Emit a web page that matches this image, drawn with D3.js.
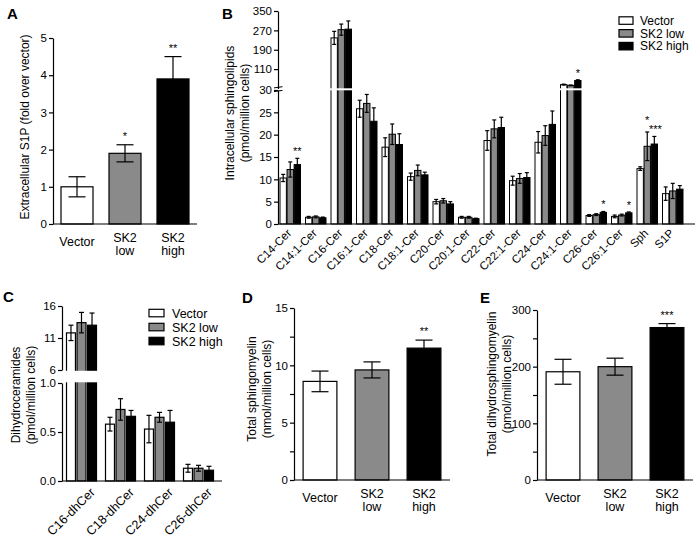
<!DOCTYPE html>
<html><head><meta charset="utf-8">
<script src="https://cdn.jsdelivr.net/npm/d3@7"></script>
<style>
body{margin:0;background:#fff;}
svg text{font-family:"Liberation Sans",Arial,sans-serif;fill:#000;}
</style></head><body>
<svg id="c" width="700" height="541"></svg>
<script>
// ---------- data ----------
const groups = ["Vector","SK2 low","SK2 high"];
const fills = ["#ffffff","#8a8a8a","#000000"];

// Panel A
const aValues = [1.0, 1.9, 3.9];
const aErrors = [0.27, 0.23, 0.6];
const aStars = ["", "*", "**"];
const aTicks = [0,1,2,3,4,5];

// Panel B
const bCategories = ["C14-Cer","C14:1-Cer","C16-Cer","C16:1-Cer","C18-Cer","C18:1-Cer","C20-Cer","C20:1-Cer","C22-Cer","C22:1-Cer","C24-Cer","C24:1-Cer","C26-Cer","C26:1-Cer","Sph","S1P"];
const bVector = [10.3, 1.5, 239, 25.8, 17.2, 10.6, 5.0, 1.5, 18.7, 9.7, 18.3, 46, 1.9, 1.7, 12.4, 6.8];
const bLow    = [12.2, 1.6, 273, 27.0, 20.1, 12.0, 5.2, 1.5, 21.3, 10.2, 19.8, 43, 2.1, 2.0, 17.4, 7.4];
const bHigh   = [13.3, 1.4, 275, 23.0, 17.8, 11.0, 4.5, 1.2, 21.6, 10.4, 22.3, 63, 2.6, 2.5, 17.9, 7.8];
const bVectorErr = [0.8, 0.2, 27, 1.9, 2.1, 0.8, 0.5, 0.2, 2.2, 1.0, 2.4, 2, 0.2, 0.3, 0.4, 1.5];
const bLowErr    = [1.7, 0.2, 23, 2.0, 2.3, 1.2, 0.5, 0.2, 2.0, 1.1, 2.2, 1.5, 0.2, 0.2, 3.2, 1.7];
const bHighErr   = [1.4, 0.15, 34, 3.0, 2.4, 0.6, 0.5, 0.1, 2.3, 1.1, 3.0, 3, 0.2, 0.2, 1.7, 0.8];
const bStars = [["C14-Cer",2,"**"],["C24:1-Cer",2,"*"],["C26-Cer",2,"*"],["C26:1-Cer",2,"*"],["Sph",1,"*"],["Sph",2,"***"]];
const bLowTicks = [0,5,10,15,20,25,30];
const bHighTicks = [110,190,270,350];
const bBreak = 30;

// Panel C
const cCategories = ["C16-dhCer","C18-dhCer","C24-dhCer","C26-dhCer"];
const cVector = [11.8, 0.58, 0.53, 0.13];
const cLow    = [13.4, 0.73, 0.65, 0.13];
const cHigh   = [13.0, 0.66, 0.60, 0.11];
const cVectorErr = [1.2, 0.07, 0.14, 0.04];
const cLowErr    = [1.6, 0.11, 0.05, 0.03];
const cHighErr   = [1.9, 0.06, 0.12, 0.04];
const cLowTicks = [0, 0.5, 1.0];
const cHighTicks = [6, 11, 16];

// Panel D
const dValues = [8.6, 9.6, 11.5];
const dErrors = [0.9, 0.7, 0.7];
const dStars = ["", "", "**"];
const dTicks = [0, 2.5, 5, 7.5, 10, 12.5, 15];

// Panel E
const eValues = [191, 200, 269];
const eErrors = [22, 15, 7];
const eStars = ["", "", "***"];
const eTicks = [0, 50, 100, 150, 200, 250, 300];

// ---------- drawing ----------
const svg = d3.select("#c");
svg.append("rect").attr("width",700).attr("height",541).attr("fill","#fff");
const FONT = "'Liberation Sans', Arial, sans-serif";
const SW = 1.2;

function panelLabel(t,x,y){
  svg.append("text").attr("x",x).attr("y",y).attr("font-size",15).attr("font-weight","bold").text(t);
}
function yTitle(lines, x, y){
  const t = svg.append("text").attr("transform",`translate(${x},${y}) rotate(-90)`)
    .attr("text-anchor","middle").attr("font-size",12);
  lines.forEach((l,i)=> t.append("tspan").attr("x",0).attr("dy", i===0?0:15).text(l));
}
function styleAxis(g){
  g.selectAll("path,line").attr("stroke","#000").attr("stroke-width",SW);
  g.selectAll("text").attr("font-size",11.5).attr("font-family",FONT).attr("fill","#000");
}
function errBar(g, cx, y1, y2, capW){
  g.append("line").attr("x1",cx).attr("x2",cx).attr("y1",y1).attr("y2",y2).attr("stroke","#000").attr("stroke-width",SW);
  [y1,y2].forEach(y=> g.append("line").attr("x1",cx-capW/2).attr("x2",cx+capW/2).attr("y1",y).attr("y2",y).attr("stroke","#000").attr("stroke-width",SW));
}
function xLine(x1,x2,y){
  svg.append("line").attr("x1",x1).attr("x2",x2).attr("y1",y).attr("y2",y).attr("stroke","#000").attr("stroke-width",SW);
}
function groupLabels(x, y, cx){
  groups.forEach((gname,i)=>{
    const parts = gname.split(" ");
    const t = svg.append("text").attr("text-anchor","middle").attr("font-size",12.5);
    if(parts.length===1){
      t.attr("x",cx(gname)).attr("y",y+22).text(gname);
    } else {
      t.append("tspan").attr("x",cx(gname)).attr("y",y+18).text(parts[0]);
      t.append("tspan").attr("x",cx(gname)).attr("y",y+31).text(parts[1]);
    }
  });
}

// simple 3-bar panel
function simplePanel(opts){
  const x = d3.scaleBand(groups,[opts.x0,opts.x1]).paddingInner(opts.pad).paddingOuter(opts.pad/2);
  const y = d3.scaleLinear(opts.domain,[opts.yb,opts.yt]);
  const g = svg.append("g");
  opts.values.forEach((v,i)=>{
    const gn = groups[i];
    g.append("rect").attr("x",x(gn)).attr("width",x.bandwidth()).attr("y",y(v)).attr("height",y(0)-y(v))
      .attr("fill",fills[i]).attr("stroke","#000").attr("stroke-width",SW);
    const cx = x(gn)+x.bandwidth()/2;
    errBar(g, cx, y(v-opts.errors[i]), y(v+opts.errors[i]), opts.capW);
    if(opts.stars[i]) g.append("text").attr("x",cx).attr("y",y(v+opts.errors[i])-5)
      .attr("text-anchor","middle").attr("font-size",11).text(opts.stars[i]);
  });
  const ax = svg.append("g").attr("transform",`translate(${opts.x0},0)`)
    .call(d3.axisLeft(y).tickValues(opts.ticks).tickSize(4).tickSizeOuter(0).tickPadding(2)
      .tickFormat(opts.fmt || (d=>d)));
  styleAxis(ax);
  xLine(opts.x0, opts.x1, opts.yb);
  groupLabels(x, opts.yb, gn => x(gn)+x.bandwidth()/2);
}

// Panel A
panelLabel("A",7,19);
simplePanel({x0:53,x1:197,yb:224,yt:38,domain:[0,5],values:aValues,errors:aErrors,stars:aStars,ticks:aTicks,pad:1/3,capW:17});
yTitle(["Extracellular S1P (fold over vector)"], 29, 127);

// Panel D
panelLabel("D",242,303);
simplePanel({x0:294,x1:450,yb:480,yt:308,domain:[0,15],values:dValues,errors:dErrors,stars:dStars,ticks:dTicks,pad:0.35,capW:17,
  fmt:d=> d%5===0? d : ""});
yTitle(["Total sphingomyelin","(nmol/million cells)"], 256, 389);

// Panel E
panelLabel("E",480,303);
simplePanel({x0:537,x1:693,yb:480,yt:310,domain:[0,300],values:eValues,errors:eErrors,stars:eStars,ticks:eTicks,pad:0.35,capW:17,
  fmt:d=> d%100===0? d : ""});
yTitle(["Total dihydrosphingomyelin","(pmol/million cells)"], 496, 384);

// ---------- Panel B (broken axis) ----------
panelLabel("B",222,19);
{
  const x0 = d3.scaleBand(bCategories,[277.5,685.5]);
  const x1 = d3.scaleBand(groups,[-10.25,10.25]).paddingInner(0.1);
  const yLow = d3.scaleLinear([0,bBreak],[224,90]);
  const yHigh = d3.scaleLinear([bBreak,350],[88.5,11]);
  const yB = v => v<=bBreak ? yLow(v) : yHigh(v);
  const series = [bVector,bLow,bHigh];
  const errs = [bVectorErr,bLowErr,bHighErr];
  const g = svg.append("g");
  bCategories.forEach((cat,ci)=>{
    const c = x0(cat)+x0.bandwidth()/2;
    let broken = false;
    series.forEach((s,si)=>{
      const v = s[ci], e = errs[si][ci];
      const bx = c + x1(groups[si]);
      g.append("rect").attr("x",bx).attr("width",x1.bandwidth()).attr("y",yB(v)).attr("height",224-yB(v))
        .attr("fill",fills[si]).attr("stroke","#000").attr("stroke-width",1);
      const cx = bx + x1.bandwidth()/2;
      errBar(g, cx, yB(v-e), yB(v+e), 4);
      if(v>bBreak) broken = true;
    });
    if(broken){
      g.append("rect").attr("x",c-12).attr("width",24).attr("y",88.3).attr("height",2).attr("fill","#fff");
    }
  });
  // stars
  const sCount = {};
  bStars.forEach(([cat,si,txt])=>{ sCount[cat]=(sCount[cat]||0)+1; });
  const seen = {};
  bStars.forEach(([cat,si,txt])=>{
    const ci = bCategories.indexOf(cat);
    const v = series[si][ci], e = errs[si][ci];
    const cx = x0(cat)+x0.bandwidth()/2 + x1(groups[si]) + x1.bandwidth()/2;
    seen[cat]=(seen[cat]||0)+1;
    const extra = (sCount[cat]>1 && seen[cat]===1) ? 5 : 0;
    g.append("text").attr("x",cx + (txt.length>2?1:0)).attr("y",yB(v+e)-3-extra).attr("text-anchor","middle").attr("font-size",11).text(txt);
  });
  const axL = svg.append("g").attr("transform","translate(278,0)")
    .call(d3.axisLeft(yLow).tickValues(bLowTicks).tickSize(4).tickSizeOuter(0).tickPadding(2));
  styleAxis(axL);
  const axH = svg.append("g").attr("transform","translate(278,0)")
    .call(d3.axisLeft(yHigh).tickValues(bHighTicks).tickSize(4).tickSizeOuter(0).tickPadding(2));
  styleAxis(axH);
  // break marks
  [87.3,91].forEach(yy=> svg.append("line").attr("x1",274).attr("x2",282.5).attr("y1",yy+0.6).attr("y2",yy-0.6)
     .attr("stroke","#000").attr("stroke-width",1));
  xLine(278,695,224);
  bCategories.forEach(cat=>{
    const c = x0(cat)+x0.bandwidth()/2;
    svg.append("text").attr("text-anchor","end").attr("font-size",11.5)
      .attr("transform",`translate(${c-1},${231}) rotate(-45)`).attr("dy","0.35em").text(cat);
  });
  yTitle(["Intracellular sphingolipids","(pmol/million cells)"], 234, 113);
  // legend
  const lg = svg.append("g");
  groups.forEach((gn,i)=>{
    const yy = 20.5 + i*12.8;
    lg.append("rect").attr("x",619).attr("y",yy-3.7).attr("width",14).attr("height",7.5)
      .attr("fill",fills[i]).attr("stroke","#000").attr("stroke-width",1.2);
    lg.append("text").attr("x",640).attr("y",yy+4.3).attr("font-size",12).text(gn);
  });
}

// ---------- Panel C (broken axis) ----------
panelLabel("C",3,302);
{
  const x0 = d3.scaleBand(cCategories,[62,218]);
  const x1 = d3.scaleBand(groups,[-15,15]).paddingInner(0.15);
  const yLow = d3.scaleLinear([0,1],[481,383]);
  const yHigh = d3.scaleLinear([6,16],[370,306]);
  const yC = v => v<=1 ? yLow(v) : yHigh(v);
  const series = [cVector,cLow,cHigh];
  const errs = [cVectorErr,cLowErr,cHighErr];
  const g = svg.append("g");
  cCategories.forEach((cat,ci)=>{
    const c = x0(cat)+x0.bandwidth()/2;
    let broken=false;
    series.forEach((s,si)=>{
      const v = s[ci], e = errs[si][ci];
      const bx = c + x1(groups[si]);
      g.append("rect").attr("x",bx).attr("width",x1.bandwidth()).attr("y",yC(v)).attr("height",481-yC(v))
        .attr("fill",fills[si]).attr("stroke","#000").attr("stroke-width",SW);
      errBar(g, bx+x1.bandwidth()/2, yC(v-e), yC(v+e), 5);
      if(v>1) broken=true;
    });
    if(broken){
      g.append("rect").attr("x",c-17).attr("width",34).attr("y",370.8).attr("height",11.5).attr("fill","#fff");
    }
  });
  const axL = svg.append("g").attr("transform","translate(62,0)")
    .call(d3.axisLeft(yLow).tickValues(cLowTicks).tickSize(4).tickSizeOuter(0).tickPadding(2).tickFormat(d3.format(".1f")));
  styleAxis(axL);
  const axH = svg.append("g").attr("transform","translate(62,0)")
    .call(d3.axisLeft(yHigh).tickValues(cHighTicks).tickSize(4).tickSizeOuter(0).tickPadding(2));
  styleAxis(axH);
  xLine(62,222,481);
  cCategories.forEach(cat=>{
    const c = x0(cat)+x0.bandwidth()/2;
    svg.append("text").attr("text-anchor","end").attr("font-size",12.5)
      .attr("transform",`translate(${c+11},${490}) rotate(-45)`).attr("dy","0.35em").text(cat);
  });
  yTitle(["Dihydroceramides","(pmol/million cells)"], 20, 395);
  const lg = svg.append("g");
  groups.forEach((gn,i)=>{
    const yy = 313 + i*14;
    lg.append("rect").attr("x",149).attr("y",yy-3.7).attr("width",15).attr("height",7.5)
      .attr("fill",fills[i]).attr("stroke","#000").attr("stroke-width",1.2);
    lg.append("text").attr("x",172).attr("y",yy+4.5).attr("font-size",12.5).text(gn);
  });
}
</script>
</body></html>
